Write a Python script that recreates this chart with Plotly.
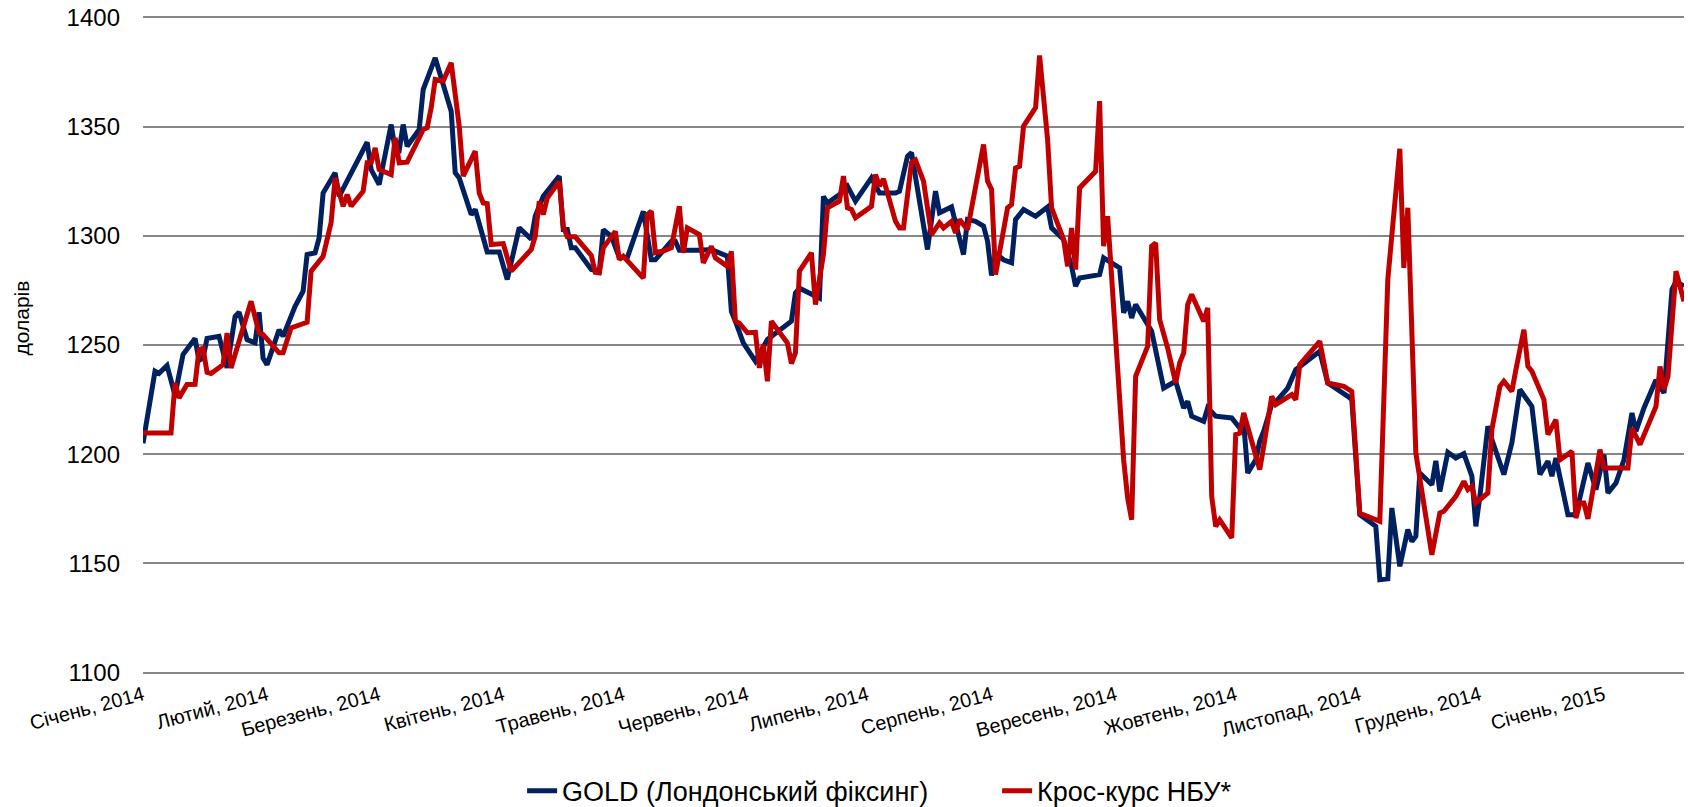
import plotly.graph_objects as go

# ---------------- data ----------------
gold_dates = [
    "2014-01-01", "2014-01-04", "2014-01-05", "2014-01-07", "2014-01-09", "2014-01-11", "2014-01-14",
    "2014-01-15", "2014-01-16", "2014-01-17", "2014-01-20", "2014-01-22", "2014-01-24", "2014-01-25",
    "2014-01-27", "2014-01-29", "2014-01-30", "2014-01-31", "2014-02-01", "2014-02-04", "2014-02-05",
    "2014-02-06", "2014-02-08", "2014-02-10", "2014-02-11", "2014-02-13", "2014-02-14", "2014-02-15",
    "2014-02-18", "2014-02-19", "2014-02-26", "2014-02-27", "2014-03-01", "2014-03-04", "2014-03-05",
    "2014-03-06", "2014-03-07", "2014-03-08", "2014-03-11", "2014-03-12", "2014-03-13", "2014-03-15",
    "2014-03-17", "2014-03-19", "2014-03-20", "2014-03-21", "2014-03-24", "2014-03-25", "2014-03-28",
    "2014-03-31", "2014-04-02", "2014-04-05", "2014-04-08", "2014-04-09", "2014-04-11", "2014-04-13",
    "2014-04-15", "2014-04-16", "2014-04-17", "2014-04-18", "2014-04-19", "2014-04-23", "2014-04-25",
    "2014-04-26", "2014-04-28", "2014-04-30", "2014-05-02", "2014-05-06", "2014-05-08", "2014-05-09",
    "2014-05-13", "2014-05-14", "2014-05-15", "2014-05-20", "2014-05-23", "2014-05-27", "2014-05-28",
    "2014-05-29", "2014-05-31", "2014-06-03", "2014-06-06", "2014-06-12", "2014-06-13", "2014-06-14",
    "2014-06-19", "2014-06-20", "2014-06-21", "2014-06-24", "2014-06-26", "2014-06-28", "2014-07-02",
    "2014-07-04", "2014-07-08", "2014-07-09", "2014-07-11", "2014-07-12", "2014-07-16", "2014-07-18",
    "2014-07-19", "2014-07-22", "2014-07-25", "2014-07-26", "2014-07-28", "2014-07-30", "2014-07-31",
    "2014-08-01", "2014-08-02", "2014-08-04", "2014-08-06", "2014-08-07", "2014-08-09", "2014-08-12",
    "2014-08-15", "2014-08-16", "2014-08-19", "2014-08-21", "2014-08-22", "2014-08-23", "2014-08-28",
    "2014-08-29", "2014-09-01", "2014-09-02", "2014-09-03", "2014-09-04", "2014-09-05", "2014-09-06",
    "2014-09-10", "2014-09-13", "2014-09-16", "2014-09-18", "2014-09-19", "2014-09-20", "2014-09-23",
    "2014-09-24", "2014-09-26", "2014-09-30", "2014-10-02", "2014-10-03", "2014-10-04", "2014-10-06",
    "2014-10-07", "2014-10-08", "2014-10-10", "2014-10-11", "2014-10-14", "2014-10-16", "2014-10-22",
    "2014-10-24", "2014-10-29", "2014-10-30", "2014-11-01", "2014-11-05", "2014-11-06", "2014-11-08",
    "2014-11-09", "2014-11-11", "2014-11-13", "2014-11-14", "2014-11-15", "2014-11-16", "2014-11-19",
    "2014-11-20", "2014-11-21", "2014-11-23", "2014-11-25", "2014-11-27", "2014-11-29", "2014-11-30",
    "2014-12-01", "2014-12-03", "2014-12-04", "2014-12-07", "2014-12-09", "2014-12-11", "2014-12-14",
    "2014-12-16", "2014-12-18", "2014-12-19", "2014-12-20", "2014-12-23", "2014-12-25", "2014-12-28",
    "2014-12-30", "2015-01-01", "2015-01-02", "2015-01-04", "2015-01-06", "2015-01-08", "2015-01-09",
    "2015-01-11", "2015-01-14", "2015-01-16", "2015-01-18", "2015-01-19", "2015-01-21",
]
gold_values = [
    1205, 1238, 1237, 1240.6, 1227, 1245.6, 1253,
    1243, 1244, 1253, 1254, 1239.5, 1263, 1265,
    1252.5, 1251, 1265, 1244, 1241, 1257, 1254,
    1258.6, 1267.7, 1274.6, 1291.4, 1292.2, 1299, 1319.6,
    1328.8, 1318, 1342.8, 1330.3, 1323.4, 1350.9, 1339.5,
    1339, 1350.9, 1341, 1348.6, 1366.9, 1371.5, 1381.4,
    1369.2, 1357, 1328.8, 1326.5, 1309.7, 1312, 1292.6,
    1292.6, 1280, 1303.7, 1298.4, 1309, 1318.1, 1322.7,
    1327.3, 1302.9, 1302.9, 1294.5, 1294.5, 1284.6, 1283.8,
    1302.8, 1299.8, 1290, 1290, 1311.2, 1289, 1289,
    1297.5, 1297.5, 1293.4, 1293.4, 1293.7, 1290.6, 1265.4,
    1260.9, 1250.9, 1242.6, 1252.5, 1260.9, 1273.8, 1276,
    1271.5, 1318, 1315, 1318.8, 1322.7, 1315.8, 1326.5,
    1319.6, 1319.6, 1320.4, 1336.4, 1338, 1293.7, 1320.4,
    1310.5, 1313.2, 1291.4, 1307.4, 1306.6, 1304.4, 1297.5,
    1281.8, 1292, 1289, 1287.6, 1307.4, 1312, 1308.9,
    1313.2, 1303.6, 1298.3, 1286, 1276.9, 1280.7, 1282.2,
    1289.9, 1286.8, 1285.3, 1264.7, 1270, 1262.4, 1268.5,
    1256.3, 1230.3, 1233.4, 1221.2, 1224.2, 1217.4, 1215.1,
    1221.2, 1217.4, 1216.6, 1212, 1214, 1191.4, 1197.5,
    1205.9, 1210.5, 1222.7, 1224, 1230.3, 1238.7, 1247.1,
    1232.6, 1226.5, 1225, 1172.3, 1167, 1142.6, 1143,
    1175.4, 1148.7, 1165.5, 1160.1, 1162.4, 1191.4, 1186,
    1197, 1183, 1200.9, 1198.3, 1200.3, 1190, 1167,
    1180.7, 1212.8, 1206.7, 1190.7, 1205.2, 1229.6, 1221.9,
    1190.7, 1196.8, 1190, 1198.3, 1172.3, 1172.3, 1196,
    1183.8, 1199.8, 1182.3, 1186.8, 1197.5, 1218.9, 1210.5,
    1221.2, 1234, 1228, 1275.4, 1279, 1276.9,
]

nbu_dates = [
    "2014-01-01", "2014-01-08", "2014-01-09", "2014-01-10", "2014-01-12", "2014-01-14", "2014-01-15",
    "2014-01-16", "2014-01-17", "2014-01-18", "2014-01-21", "2014-01-22", "2014-01-23", "2014-01-28",
    "2014-01-30", "2014-01-31", "2014-02-04", "2014-02-05", "2014-02-07", "2014-02-11", "2014-02-12",
    "2014-02-15", "2014-02-17", "2014-02-18", "2014-02-20", "2014-02-21", "2014-02-22", "2014-02-25",
    "2014-02-26", "2014-02-27", "2014-02-28", "2014-03-01", "2014-03-04", "2014-03-05", "2014-03-06",
    "2014-03-08", "2014-03-12", "2014-03-13", "2014-03-14", "2014-03-15", "2014-03-17", "2014-03-19",
    "2014-03-21", "2014-03-22", "2014-03-25", "2014-03-26", "2014-03-27", "2014-03-28", "2014-03-29",
    "2014-04-01", "2014-04-03", "2014-04-08", "2014-04-09", "2014-04-10", "2014-04-11", "2014-04-12",
    "2014-04-15", "2014-04-16", "2014-04-17", "2014-04-19", "2014-04-23", "2014-04-24", "2014-04-25",
    "2014-04-26", "2014-04-29", "2014-04-30", "2014-05-01", "2014-05-06", "2014-05-07", "2014-05-08",
    "2014-05-09", "2014-05-11", "2014-05-13", "2014-05-15", "2014-05-16", "2014-05-17", "2014-05-20",
    "2014-05-21", "2014-05-23", "2014-05-24", "2014-05-27", "2014-05-28", "2014-05-29", "2014-05-30",
    "2014-06-01", "2014-06-03", "2014-06-04", "2014-06-05", "2014-06-06", "2014-06-07", "2014-06-11",
    "2014-06-12", "2014-06-13", "2014-06-14", "2014-06-17", "2014-06-18", "2014-06-20", "2014-06-21",
    "2014-06-24", "2014-06-25", "2014-06-26", "2014-06-27", "2014-06-28", "2014-07-02", "2014-07-03",
    "2014-07-04", "2014-07-05", "2014-07-08", "2014-07-09", "2014-07-10", "2014-07-12", "2014-07-13",
    "2014-07-15", "2014-07-17", "2014-07-19", "2014-07-20", "2014-07-22", "2014-07-23", "2014-07-24",
    "2014-07-26", "2014-07-30", "2014-07-31", "2014-08-01", "2014-08-02", "2014-08-05", "2014-08-06",
    "2014-08-07", "2014-08-08", "2014-08-09", "2014-08-12", "2014-08-13", "2014-08-15", "2014-08-16",
    "2014-08-19", "2014-08-20", "2014-08-21", "2014-08-22", "2014-08-23", "2014-08-27", "2014-08-28",
    "2014-08-29", "2014-08-30", "2014-09-03", "2014-09-04", "2014-09-05", "2014-09-06", "2014-09-09",
    "2014-09-10", "2014-09-11", "2014-09-12", "2014-09-14", "2014-09-16", "2014-09-17", "2014-09-18",
    "2014-09-19", "2014-09-20", "2014-09-23", "2014-09-24", "2014-09-25", "2014-09-26", "2014-09-27",
    "2014-09-30", "2014-10-01", "2014-10-02", "2014-10-03", "2014-10-07", "2014-10-08", "2014-10-10",
    "2014-10-11", "2014-10-15", "2014-10-16", "2014-10-17", "2014-10-22", "2014-10-24", "2014-10-28",
    "2014-10-30", "2014-11-01", "2014-11-06", "2014-11-08", "2014-11-11", "2014-11-12", "2014-11-13",
    "2014-11-15", "2014-11-19", "2014-11-21", "2014-11-22", "2014-11-25", "2014-11-27", "2014-11-28",
    "2014-11-29", "2014-11-30", "2014-12-03", "2014-12-04", "2014-12-06", "2014-12-07", "2014-12-09",
    "2014-12-10", "2014-12-12", "2014-12-13", "2014-12-14", "2014-12-17", "2014-12-18", "2014-12-20",
    "2014-12-21", "2014-12-24", "2014-12-25", "2014-12-26", "2014-12-27", "2014-12-28", "2014-12-31",
    "2015-01-01", "2015-01-07", "2015-01-08", "2015-01-10", "2015-01-14", "2015-01-15", "2015-01-16",
    "2015-01-17", "2015-01-19", "2015-01-21",
]
nbu_values = [
    1209.7, 1209.7, 1232.6, 1225.8, 1231.9, 1232, 1247.9,
    1248.5, 1237.5, 1237, 1241, 1255.5, 1239.5, 1270,
    1255.5, 1254.8, 1246.4, 1246.4, 1257.8, 1260.4, 1283.8,
    1290.6, 1306, 1326.5, 1313.5, 1318.8, 1313.5, 1320.4,
    1333.4, 1333.4, 1340.2, 1330.3, 1328, 1344.8, 1333.4,
    1333.7, 1348.6, 1349.4, 1358.6, 1371.5, 1370.8, 1379.2,
    1350.2, 1327.3, 1338.7, 1319.6, 1315, 1314.7, 1296,
    1296.4, 1283.8, 1293.7, 1299.8, 1315.8, 1309.7, 1317.3,
    1324.9, 1304.3, 1299.5, 1299.5, 1291, 1283.3, 1283,
    1294.5, 1302, 1289.1, 1290.6, 1280.6, 1309.7, 1311.2,
    1292.2, 1293, 1294.5, 1313.5, 1292.2, 1303.6, 1300.5,
    1287.6, 1295.2, 1289.9, 1286, 1292.9, 1260.9, 1260,
    1255.6, 1255.8, 1239.5, 1250.2, 1233.4, 1260.9, 1250.9,
    1241.5, 1246.4, 1283.8, 1292.2, 1268.5, 1291.4, 1312.8,
    1315.8, 1327.3, 1312.8, 1312, 1308.2, 1313.5, 1328,
    1322.7, 1326, 1306.6, 1303.6, 1303.6, 1333.4, 1334.6,
    1325, 1300.5, 1305.9, 1303.6, 1306.6, 1301.3, 1307.4,
    1302.8, 1341.8, 1325, 1321.2, 1282.2, 1312.8, 1314.3,
    1331, 1331.8, 1350.2, 1358.6, 1382.5, 1344, 1312.8,
    1298.3, 1286, 1303.6, 1284.5, 1321.9, 1329.5, 1361.6,
    1295.2, 1309, 1197.5, 1180, 1170, 1235.7, 1249.4,
    1295.2, 1296.7, 1261.6, 1248.6, 1232.6, 1241.8, 1246.4,
    1268.5, 1273.1, 1260.9, 1267, 1180.7, 1167, 1170,
    1161.7, 1209, 1209.7, 1218.9, 1193, 1203.6, 1226.5,
    1222.7, 1227.3, 1225, 1241, 1251.7, 1232.6, 1231.1,
    1228.8, 1173, 1169.3, 1280, 1339.8, 1285.3, 1312.8,
    1200.6, 1154, 1173.1, 1173.9, 1180.7, 1187.6, 1183.8,
    1185.3, 1177.7, 1182.3, 1211.3, 1231.1, 1233.4, 1228.8,
    1238.7, 1257, 1240.3, 1238, 1225, 1209, 1215.8,
    1197.5, 1201.3, 1170.8, 1177.7, 1177.7, 1170.4, 1202.1,
    1193.7, 1193.7, 1212, 1204.4, 1221.9, 1240.2, 1229.6,
    1235.7, 1283.8, 1270,
]

month_ticks = [
    "2014-01-01", "2014-02-01", "2014-03-01", "2014-04-01", "2014-05-01", "2014-06-01", "2014-07-01",
    "2014-08-01", "2014-09-01", "2014-10-01", "2014-11-01", "2014-12-01", "2015-01-01",
]
month_labels = [
    "Січень, 2014", "Лютий, 2014", "Березень, 2014", "Квітень, 2014", "Травень, 2014",
    "Червень, 2014", "Липень, 2014", "Серпень, 2014", "Вересень, 2014", "Жовтень, 2014",
    "Листопад, 2014", "Грудень, 2014", "Січень, 2015",
]
series_names = ["GOLD (Лондонський фіксинг)", "Крос-курс НБУ*"]
y_title = "доларів"

# ---------------- figure ----------------
FONT = "Liberation Sans, Arial, sans-serif"
fig = go.Figure()
fig.add_trace(go.Scatter(x=gold_dates, y=gold_values, mode="lines", name=series_names[0],
                         line=dict(color="#002060", width=5)))
fig.add_trace(go.Scatter(x=nbu_dates, y=nbu_values, mode="lines", name=series_names[1],
                         line=dict(color="#C00000", width=5)))

fig.update_layout(
    width=1688, height=807,
    margin=dict(l=143, r=4, t=14, b=131, autoexpand=False),
    paper_bgcolor="white", plot_bgcolor="white",
    font=dict(family=FONT, color="black"),
    showlegend=True,
    legend=dict(orientation="h", x=0.246, xanchor="left", y=-0.174, yanchor="middle",
                font=dict(size=27, family=FONT, color="black"), entrywidth=430,
                bgcolor="rgba(0,0,0,0)"),
    xaxis=dict(type="date", range=["2014-01-01", "2015-01-21"],
               tickmode="array", tickvals=month_ticks, ticktext=month_labels,
               tickangle=-15, tickfont=dict(size=20, family=FONT, color="black"),
               showgrid=False, zeroline=False, showline=False, ticks="",
               ticklabelstandoff=3),
    yaxis=dict(range=[1098.5, 1401.5], tick0=1100, dtick=50,
               tickfont=dict(size=24, family=FONT, color="black"),
               showgrid=True, gridcolor="#878787", gridwidth=2,
               zeroline=False, showline=False, ticks="",
               ticklabelstandoff=22),
    annotations=[dict(text=y_title, textangle=-90, xref="paper", yref="paper",
                      x=(22 - 143) / 1541, y=0.54, xanchor="center", yanchor="middle",
                      showarrow=False, font=dict(size=21, family=FONT, color="black"))],
)

# the browser's default 8px body margin would push the figure off its 1688x807 window
fig.write_html(
    "out.html",
    config={"displayModeBar": False},
    post_script="document.body.style.margin='0px';document.body.style.overflow='hidden';",
)
